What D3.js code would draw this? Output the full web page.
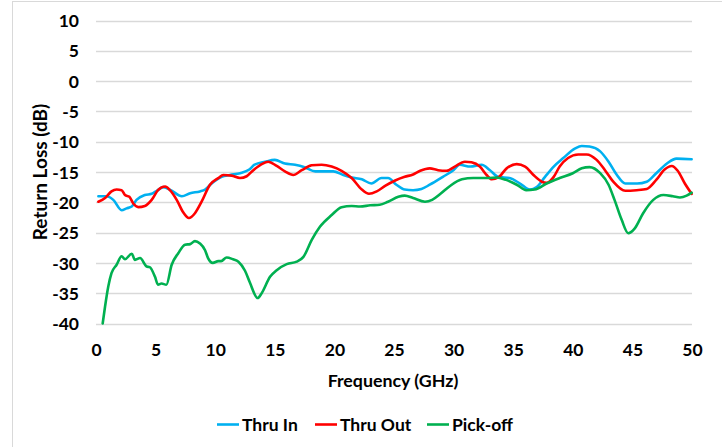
<!DOCTYPE html>
<html>
<head>
<meta charset="utf-8">
<script src="https://cdn.jsdelivr.net/npm/d3@7"></script>
<style>
  html, body { margin: 0; padding: 0; background: #fff; }
  svg { display: block; }
  text { font-family: Lato, "Open Sans", sans-serif; font-weight: bold; fill: #000; }
</style>
</head>
<body>
<svg id="chart" width="722" height="447"></svg>
<script>
// ---- Data ----
const seriesNames = ["Thru In", "Thru Out", "Pick-off"];
const seriesColors = ["#00B0F0", "#FF0000", "#00B050"];

const xTicks = [0, 5, 10, 15, 20, 25, 30, 35, 40, 45, 50];
const yTicks = [10, 5, 0, -5, -10, -15, -20, -25, -30, -35, -40];

const thruInFreq = [0.2, 0.9, 1.45, 2.15, 2.57, 3.0, 3.4, 4.1, 4.67, 5.1, 5.65, 6.35, 7.2, 7.9, 8.72, 9.15, 9.7, 10.55, 11.24, 12.08, 12.86, 13.3, 14.2, 15.0, 15.85, 16.7, 17.5, 18.4, 19.2, 19.9, 20.75, 21.45, 22.3, 23.1, 23.95, 24.5, 25.2, 25.9, 26.6, 27.3, 28.0, 29.1, 29.98, 30.5, 31.4, 32.35, 33.05, 33.75, 34.7, 35.57, 36.4, 36.97, 37.67, 38.4, 39.2, 40.2, 40.75, 41.4, 42.3, 43.0, 43.7, 44.4, 45.4, 46.2, 47.0, 47.9, 48.7, 49.97];
const thruInVal = [-19.0, -19.0, -19.6, -21.3, -21.0, -20.7, -19.6, -18.8, -18.6, -18.1, -17.5, -18.1, -19.0, -18.5, -18.2, -17.9, -16.9, -15.8, -15.5, -15.2, -14.6, -13.8, -13.3, -13.0, -13.6, -13.8, -14.2, -14.9, -14.9, -14.9, -15.5, -15.9, -16.2, -16.9, -16.0, -16.0, -17.1, -17.9, -18.0, -17.8, -17.1, -15.8, -14.7, -13.8, -14.1, -13.8, -14.7, -15.8, -16.0, -16.9, -17.9, -17.5, -15.8, -14.1, -12.7, -11.1, -10.7, -10.8, -11.6, -13.3, -15.5, -16.9, -16.9, -16.6, -15.2, -13.6, -12.8, -12.9];

const thruOutFreq = [0.2, 0.76, 1.3, 1.73, 2.15, 2.43, 2.8, 3.13, 3.55, 4.1, 4.67, 5.2, 5.8, 6.2, 6.77, 7.3, 7.8, 8.3, 8.86, 9.56, 10.26, 10.68, 11.38, 12.08, 12.64, 13.2, 13.9, 14.45, 15.16, 15.85, 16.55, 17.26, 18.1, 18.93, 19.77, 20.6, 21.45, 22.3, 22.9, 23.55, 24.25, 25.1, 25.9, 26.6, 27.2, 28.0, 28.7, 29.4, 30.1, 30.95, 31.5, 32.2, 32.77, 33.2, 33.75, 34.45, 35.3, 36.0, 36.7, 37.4, 37.8, 38.4, 38.9, 39.6, 40.46, 41.16, 42.0, 42.7, 43.4, 44.4, 45.35, 46.2, 47.0, 47.7, 48.3, 48.8, 49.4, 49.97];
const thruOutVal = [-19.9, -19.3, -18.2, -17.9, -18.0, -18.8, -19.1, -20.2, -20.8, -20.6, -19.6, -18.0, -17.4, -18.0, -19.6, -21.6, -22.6, -21.8, -19.9, -17.1, -16.0, -15.5, -15.6, -16.0, -15.7, -14.7, -13.7, -13.3, -14.0, -14.9, -15.5, -14.7, -13.9, -13.8, -14.1, -14.8, -16.0, -17.9, -18.6, -18.2, -17.3, -16.4, -15.8, -15.4, -14.8, -14.4, -14.7, -14.8, -14.1, -13.3, -13.4, -14.1, -15.5, -16.2, -15.9, -14.4, -13.7, -14.1, -15.5, -16.6, -16.8, -15.8, -14.1, -12.7, -12.1, -12.1, -13.0, -14.7, -16.6, -18.1, -18.0, -17.8, -16.3, -14.6, -14.0, -14.8, -16.9, -18.6];

const pickOffFreq = [0.56, 0.76, 1.03, 1.3, 1.73, 2.15, 2.43, 3.0, 3.27, 3.7, 4.25, 4.5, 4.95, 5.2, 5.5, 5.9, 6.35, 6.9, 7.47, 7.9, 8.3, 8.72, 9.15, 9.4, 9.8, 10.26, 10.5, 10.96, 11.5, 11.95, 12.5, 12.9, 13.56, 13.9, 14.6, 15.16, 16.0, 16.84, 17.4, 18.1, 18.8, 19.77, 20.6, 21.45, 22.15, 23.0, 23.8, 24.5, 25.36, 25.9, 26.6, 27.6, 28.2, 28.9, 29.7, 30.7, 31.65, 32.9, 33.6, 34.4, 35.3, 36.1, 36.8, 37.8, 38.9, 40.0, 40.75, 41.4, 42.3, 43.0, 43.5, 44.1, 44.65, 45.2, 45.9, 46.75, 47.6, 48.4, 48.99, 49.55, 49.97];
const pickOffVal = [-40.0, -37.2, -33.9, -31.7, -30.3, -28.9, -29.4, -28.5, -29.5, -29.2, -30.6, -30.7, -32.3, -33.6, -33.4, -33.6, -30.3, -28.4, -27.0, -26.9, -26.4, -26.8, -27.9, -29.2, -30.0, -29.7, -29.7, -29.1, -29.4, -29.8, -31.3, -33.2, -35.8, -35.0, -32.3, -31.2, -30.2, -29.8, -29.0, -26.2, -24.0, -22.1, -20.8, -20.6, -20.7, -20.5, -20.4, -19.9, -19.1, -18.9, -19.3, -19.9, -19.6, -18.6, -17.3, -16.2, -16.0, -16.0, -15.9, -16.3, -17.1, -18.0, -17.9, -16.9, -16.0, -15.2, -14.4, -14.2, -15.2, -17.1, -19.6, -22.9, -25.1, -24.3, -21.8, -19.6, -18.8, -19.0, -19.2, -18.9, -18.4];

const seriesFreqs = [thruInFreq, thruOutFreq, pickOffFreq];
const seriesVals = [thruInVal, thruOutVal, pickOffVal];

// ---- Layout ----
const svg = d3.select("#chart");
const plot = { left: 96, right: 692, top: 20.5, bottom: 323.5 };
const fs = 17.5;
const fmt = d => String(d); // plain hyphen-minus, as in the reference

const x = d3.scaleLinear().domain([0, 50]).range([plot.left, plot.right]);
const y = d3.scaleLinear().domain([-40, 10]).range([plot.bottom, plot.top]);

// chart frame (left / top edges visible)
svg.append("rect").attr("x", 12.5).attr("y", 1.5).attr("width", 740).attr("height", 470)
  .attr("fill", "none").attr("stroke", "#D9D9D9").attr("stroke-width", 1);

// gridlines
svg.append("g").selectAll("line").data(yTicks).join("line")
  .attr("x1", plot.left).attr("x2", plot.right)
  .attr("y1", d => Math.round(y(d)) + 0.5).attr("y2", d => Math.round(y(d)) + 0.5)
  .attr("stroke", "#D9D9D9").attr("stroke-width", 1.3);

// Y axis (labels only)
const yAxis = d3.axisLeft(y).tickValues(yTicks).tickSize(0).tickPadding(0).tickFormat(fmt);
const gy = svg.append("g").attr("transform", `translate(79,0)`).call(yAxis);
gy.select(".domain").remove();
gy.selectAll("text").attr("font-size", fs).attr("font-family", "Lato, sans-serif").attr("font-weight", "bold").attr("fill", "#000").attr("dy", "0.35em");

// X axis (labels only)
const xAxis = d3.axisBottom(x).tickValues(xTicks).tickSize(0).tickPadding(0).tickFormat(fmt);
const gx = svg.append("g").attr("transform", `translate(0,344)`).call(xAxis);
gx.select(".domain").remove();
gx.selectAll("text").attr("font-size", fs).attr("font-family", "Lato, sans-serif").attr("font-weight", "bold").attr("fill", "#000").attr("dy", "0.71em");

// axis titles
svg.append("text").attr("x", 393).attr("y", 387).attr("text-anchor", "middle")
  .attr("font-size", 17.8).text("Frequency (GHz)");
svg.append("text").attr("transform", `translate(47,${(plot.top + plot.bottom) / 2}) rotate(-90)`)
  .attr("text-anchor", "middle").attr("font-size", 19).text("Return Loss (dB)");

// lines
const line = d3.line().x(d => x(d[0])).y(d => y(d[1])).curve(d3.curveMonotoneX);
seriesNames.forEach((name, i) => {
  const pts = seriesFreqs[i].map((f, j) => [f, seriesVals[i][j]]);
  svg.append("path").datum(pts).attr("d", line)
    .attr("fill", "none").attr("stroke", seriesColors[i]).attr("stroke-width", 2.6)
    .attr("stroke-linejoin", "round").attr("stroke-linecap", "round");
});

// legend
const legendX = [217, 315, 427];
const lg = svg.append("g");
seriesNames.forEach((name, i) => {
  lg.append("line").attr("x1", legendX[i]).attr("x2", legendX[i] + 22)
    .attr("y1", 424.5).attr("y2", 424.5).attr("stroke", seriesColors[i]).attr("stroke-width", 2.6);
  lg.append("text").attr("x", legendX[i] + 25).attr("y", 431).attr("font-size", fs).text(name);
});
</script>
</body>
</html>
